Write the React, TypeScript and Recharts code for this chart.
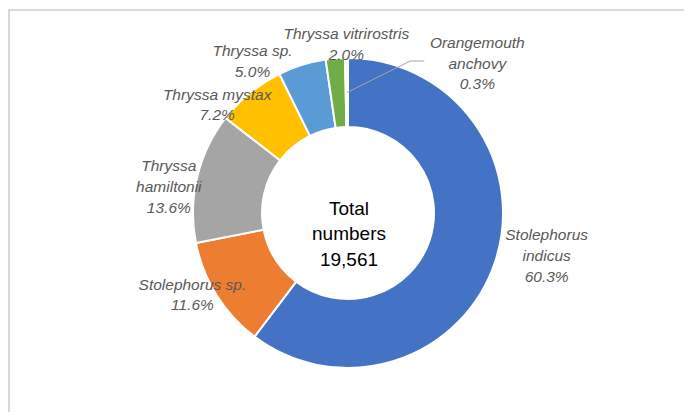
import { PieChart, Pie, Cell } from "recharts";

const SPECIES = [
  "Stolephorus\nindicus",
  "Stolephorus sp.",
  "Thryssa\nhamiltonii",
  "Thryssa mystax",
  "Thryssa sp.",
  "Thryssa vitrirostris",
  "Orangemouth\nanchovy",
];
const SHARES = [60.3, 11.6, 13.6, 7.2, 5.0, 2.0, 0.3];
const TOTAL_LINES = ["Total", "numbers", "19,561"];

// last sliver renders as a white gap in the original
const COLORS = ["#4472C4", "#ED7D31", "#A5A5A5", "#FFC000", "#5B9BD5", "#70AD47", "#F4F6FB"];

// nudges from the default radial label point (outerRadius + 25)
const LABEL_NUDGE = [
  [28, -15],
  [-3, -14],
  [-4, 15],
  [-17, 31],
  [-42, 20],
  [13, 10],
  [131, 30],
];

const data = SPECIES.map((name, i) => ({ name, value: SHARES[i] }));

const RADIAN = Math.PI / 180;
const polar = (cx: number, cy: number, r: number, angle: number) => ({
  x: cx + r * Math.cos(-angle * RADIAN),
  y: cy + r * Math.sin(-angle * RADIAN),
});

const LINE_H = 20.8;

const SliceLabel = (props: any) => {
  const { cx, cy, midAngle, innerRadius, outerRadius, index, value } = props;
  const base = polar(cx, cy, outerRadius + 25, midAngle);
  const [dx, dy] = LABEL_NUDGE[index];
  const x = base.x + dx;
  const y = base.y + dy;
  const lines = [...SPECIES[index].split("\n"), `${value.toFixed(1)}%`];
  const top = y - ((lines.length - 1) * LINE_H) / 2;
  let leader = null;
  if (index === SPECIES.length - 1) {
    const s = polar(cx, cy, (innerRadius + outerRadius) / 2, midAngle);
    leader = (
      <polyline
        points={`${s.x},${s.y} ${x - 67},${y - 2} ${x - 53},${y - 2}`}
        fill="none"
        stroke="#A6A6A6"
        strokeWidth={1}
      />
    );
  }
  return (
    <g>
      {leader}
      <text
        x={x}
        y={top}
        textAnchor="middle"
        fill="#595959"
        fontSize={15.5}
        fontStyle="italic"
        fontFamily="'Liberation Sans', Arial, sans-serif"
      >
        {lines.map((t, i) => (
          <tspan key={i} x={x} y={top + i * LINE_H} dominantBaseline="central">
            {t}
          </tspan>
        ))}
      </text>
    </g>
  );
};

const CX = 348;
const CY = 213;

const App = () => (
  <div
    style={{
      position: "absolute",
      left: 0,
      top: 0,
      width: 684,
      height: 412,
      overflow: "hidden",
      background: "#fff",
    }}
  >
    <div
      style={{
        position: "absolute",
        left: 8,
        top: 9,
        width: 676,
        height: 403,
        borderTop: "2px solid #D9D9D9",
        borderLeft: "2px solid #D9D9D9",
        boxSizing: "border-box",
      }}
    />
    <div style={{ position: "absolute", left: 0, top: 0 }}>
      <PieChart width={684} height={412} margin={{ top: 0, right: 0, bottom: 0, left: 0 }}>
        <Pie
          data={data}
          dataKey="value"
          nameKey="name"
          cx={CX}
          cy={CY}
          innerRadius={86}
          outerRadius={155}
          startAngle={90}
          endAngle={-270}
          stroke="#fff"
          strokeWidth={2}
          label={<SliceLabel />}
          labelLine={false}
          isAnimationActive={false}
        >
          {data.map((_, i) => (
            <Cell key={i} fill={COLORS[i]} />
          ))}
        </Pie>
        <text
          x={CX + 1}
          y={CY - 5}
          textAnchor="middle"
          fill="#000"
          fontSize={19}
          fontFamily="'Liberation Sans', Arial, sans-serif"
        >
          {TOTAL_LINES.map((t, i) => (
            <tspan key={i} x={CX + 1} y={CY - 5 + i * 25.5} dominantBaseline="central">
              {t}
            </tspan>
          ))}
        </text>
      </PieChart>
    </div>
  </div>
);

export default App;
